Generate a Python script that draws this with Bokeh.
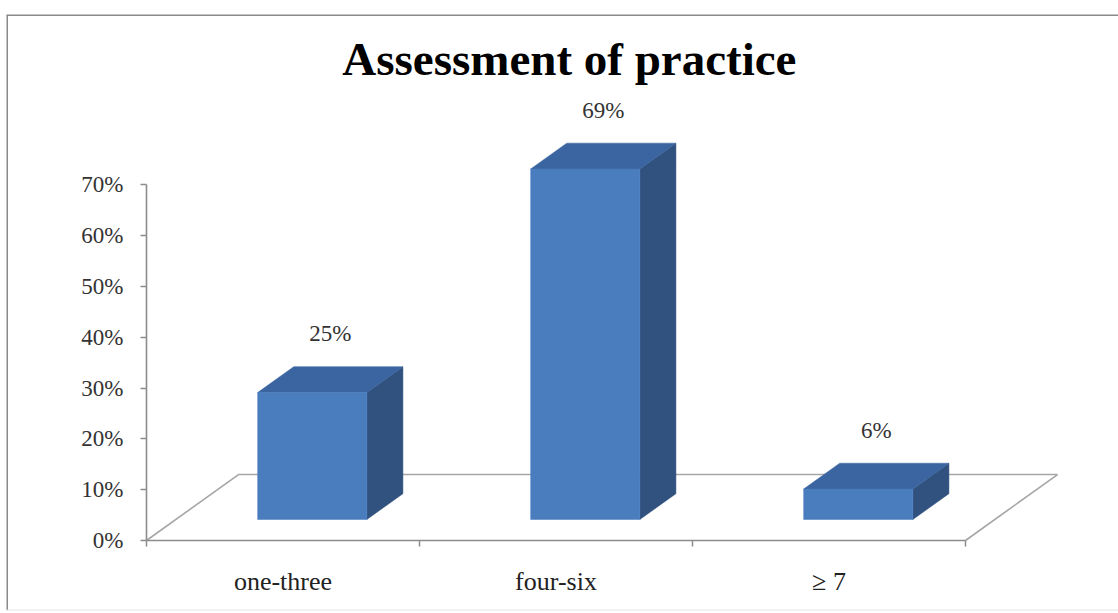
from bokeh.plotting import figure
from bokeh.models import LinearAxis, FixedTicker, Range1d
from bokeh.core.properties import value
from bokeh.embed import file_html
from bokeh.resources import INLINE

# --- data -------------------------------------------------------------
categories = ["one-three", "four-six", "\u2265 7"]
percent = [25, 69, 6]
value_labels = ["25%", "69%", "6%"]
y_ticks = [0, 10, 20, 30, 40, 50, 60, 70]
y_tick_labels = ["0%", "10%", "20%", "30%", "40%", "50%", "60%", "70%"]
title_text = "Assessment of practice"

# --- geometry of the pseudo-3D scene (data units) ----------------------
DEPTH_X = 0.337      # horizontal shift of the floor's back edge (category units)
DEPTH_Y = 12.98      # vertical shift of the floor's back edge (percent units)
BAR_FRONT = 0.318    # depth fraction of bar front faces
BAR_BACK = 0.71      # depth fraction of bar back faces
BAR_W = 0.40

FRONT = "#4A7DBE"
TOP = "#3B65A0"
SIDE = "#31527F"
GRID_GRAY = "#A6A6A6"
AXIS_GRAY = "#8C8C8C"
SERIF = "Liberation Serif"

x0, x1 = -0.5128, 3.5604
y0, y1 = -13.78, 103.54

p = figure(width=1118, height=613, output_backend="svg", toolbar_location=None,
           x_range=Range1d(x0, x1), y_range=Range1d(y0, y1),
           x_axis_type=None, y_axis_type=None,
           min_border_left=6, min_border_right=0, min_border_top=14, min_border_bottom=3)
p.xgrid.visible = False
p.ygrid.visible = False
p.outline_line_color = None
p.background_fill_color = "white"
p.border_fill_color = "white"

# chart border (left and top edges, faint bottom)
p.segment(x0=[x0, x0], y0=[y0, y1], x1=[x0, x1], y1=[y1, y1],
          line_color="#8A8A8A", line_width=3)
p.segment(x0=[x0], y0=[y0], x1=[x1], y1=[y0], line_color="#E6E6E6", line_width=2)

n = len(categories)

# floor outline
p.line(x=[0, DEPTH_X, n + DEPTH_X, n], y=[0, DEPTH_Y, DEPTH_Y, 0],
       line_color=GRID_GRAY, line_width=1.6)

# bars: front, top and right side faces
for i, v in enumerate(percent):
    xl = i + 0.5 - BAR_W / 2
    xr = i + 0.5 + BAR_W / 2
    fx, fy = BAR_FRONT * DEPTH_X, BAR_FRONT * DEPTH_Y
    bx, by = BAR_BACK * DEPTH_X, BAR_BACK * DEPTH_Y
    p.patch(x=[xr + fx, xr + bx, xr + bx, xr + fx],
            y=[fy, by, by + v, fy + v], fill_color=SIDE, line_color=SIDE, line_width=0.5)
    p.patch(x=[xl + fx, xr + fx, xr + bx, xl + bx],
            y=[fy + v, fy + v, by + v, by + v], fill_color=TOP, line_color=TOP, line_width=0.5)
    p.patch(x=[xl + fx, xr + fx, xr + fx, xl + fx],
            y=[fy, fy, fy + v, fy + v], fill_color=FRONT, line_color=FRONT, line_width=0.5)

# value labels above each bar
mid = (BAR_FRONT + BAR_BACK) / 2
p.text(x=[i + 0.5 + mid * DEPTH_X for i in range(n)],
       y=[BAR_BACK * DEPTH_Y + v for v in percent],
       text=value_labels, text_align="center", text_baseline="middle",
       y_offset=-33, text_font=value(SERIF), text_font_size="23px", text_color="#333333")

# title
p.text(x=[1.549], y=[94.8], text=[title_text], text_align="center",
       text_baseline="alphabetic", text_font=value(SERIF), text_font_style="bold",
       text_font_size="47px", text_color="black")

# y axis
yax = LinearAxis(fixed_location=0, ticker=FixedTicker(ticks=y_ticks), bounds=(0, 70),
                 major_label_overrides={t: s for t, s in zip(y_ticks, y_tick_labels)})
yax.axis_line_color = AXIS_GRAY
yax.axis_line_width = 1.6
yax.major_tick_line_color = AXIS_GRAY
yax.major_tick_line_width = 1.5
yax.major_tick_out = 6
yax.major_tick_in = 0
yax.minor_tick_line_color = None
yax.major_label_standoff = 17
yax.major_label_text_font = SERIF
yax.major_label_text_font_size = "23px"
yax.major_label_text_color = "#333333"
p.add_layout(yax, "left")

# x axis: category names at centres, tick marks at category boundaries
xax = LinearAxis(fixed_location=0,
                 ticker=FixedTicker(ticks=[i + 0.5 for i in range(n)],
                                    minor_ticks=list(range(n + 1))),
                 bounds=(0, n),
                 major_label_overrides={i + 0.5: c for i, c in enumerate(categories)})
xax.axis_line_color = AXIS_GRAY
xax.axis_line_width = 1.6
xax.major_tick_line_color = None
xax.major_tick_out = 0
xax.major_tick_in = 0
xax.minor_tick_line_color = AXIS_GRAY
xax.minor_tick_line_width = 1.5
xax.minor_tick_out = 6
xax.minor_tick_in = 0
xax.major_label_standoff = 21
xax.major_label_text_font = SERIF
xax.major_label_text_font_size = "26px"
xax.major_label_text_color = "#222222"
p.add_layout(xax, "below")

open("out.html", "w").write(file_html(p, INLINE))
